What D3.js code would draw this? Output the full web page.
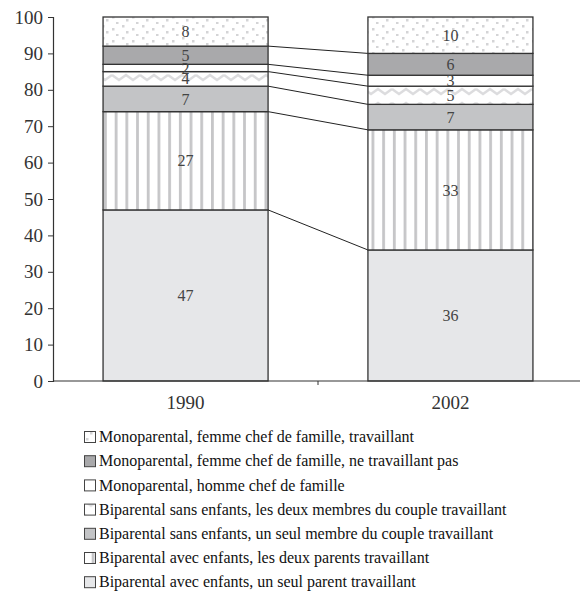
<!DOCTYPE html>
<html>
<head>
<meta charset="utf-8">
<script src="https://cdn.jsdelivr.net/npm/d3@7"></script>
<style>
  body { margin: 0; background: #fff; }
  svg { display: block; }
  text { font-family: "Liberation Serif", "Times New Roman", serif; }
</style>
</head>
<body>
<div id="chart"></div>
<script>
// data
var years = ['1990', '2002'];
var series = [
  'Biparental avec enfants, un seul parent travaillant',
  'Biparental avec enfants, les deux parents travaillant',
  'Biparental sans enfants, un seul membre du couple travaillant',
  'Biparental sans enfants, les deux membres du couple travaillant',
  'Monoparental, homme chef de famille',
  'Monoparental, femme chef de famille, ne travaillant pas',
  'Monoparental, femme chef de famille, travaillant'
];
var values1990 = [47, 27, 7, 4, 2, 5, 8];
var values2002 = [36, 33, 7, 5, 3, 6, 10];
var yTicks = [0, 10, 20, 30, 40, 50, 60, 70, 80, 90, 100];

var width = 580, height = 614;
var fills = ['#e6e7e9', 'url(#stripes)', '#c3c4c6', 'url(#zigzag)', '#ffffff', '#a9a9ab', 'url(#dots)'];

var svg = d3.select('#chart').append('svg')
    .attr('width', width)
    .attr('height', height);

var defs = svg.append('defs');
// vertical stripes
var pStripe = defs.append('pattern').attr('id', 'stripes')
    .attr('patternUnits', 'userSpaceOnUse').attr('width', 10.7).attr('height', 10).attr('x', 104);
pStripe.append('rect').attr('width', 10.7).attr('height', 10).attr('fill', '#fff');
pStripe.append('rect').attr('x', 0).attr('width', 2.8).attr('height', 10).attr('fill', '#c6c6c8');
// dots
var pDots = defs.append('pattern').attr('id', 'dots')
    .attr('patternUnits', 'userSpaceOnUse').attr('width', 20).attr('height', 12);
pDots.append('rect').attr('width', 20).attr('height', 12).attr('fill', '#fff');
[[2, 1], [12, 4], [6, 7], [16, 10]].forEach(function(p) {
  pDots.append('rect').attr('x', p[0]).attr('y', p[1]).attr('width', 2.5).attr('height', 2.5).attr('fill', '#d4d4d6');
});
// zigzag
var pZig = defs.append('pattern').attr('id', 'zigzag')
    .attr('patternUnits', 'userSpaceOnUse').attr('width', 28).attr('height', 14).attr('y', 2);
pZig.append('rect').attr('width', 28).attr('height', 14).attr('fill', '#fff');
pZig.append('path').attr('d', 'M0,3 L7,8 L14,3 L21,8 L28,3').attr('fill', 'none')
    .attr('stroke', '#dcdcde').attr('stroke-width', 2.5);

var x = d3.scaleBand().domain(years).range([53, 583]).paddingInner(0.377).paddingOuter(0.189);
var y = d3.scaleLinear().domain([0, 100]).range([381, 17]);

var data = [values1990, values2002].map(function(vals, i) {
  var acc = 0;
  return vals.map(function(v, k) {
    var d = {year: years[i], k: k, v: v, y0: acc, y1: acc + v};
    acc += v;
    return d;
  });
});

// connecting lines between stacked boundaries
var links = d3.range(series.length - 1).map(function(k) {
  return {a: data[0][k].y1, b: data[1][k].y1};
});
svg.append('g').selectAll('line').data(links).join('line')
    .attr('x1', x('1990') + x.bandwidth())
    .attr('x2', x('2002'))
    .attr('y1', d => y(d.a))
    .attr('y2', d => y(d.b))
    .attr('stroke', '#222')
    .attr('stroke-width', 1);

// bars
var bars = svg.append('g');
data.forEach(function(col) {
  bars.selectAll(null).data(col).join('rect')
      .attr('x', d => x(d.year))
      .attr('width', x.bandwidth())
      .attr('y', d => y(d.y1))
      .attr('height', d => y(d.y0) - y(d.y1))
      .attr('fill', d => fills[d.k])
      .attr('stroke', '#333')
      .attr('stroke-width', 1.3);
  bars.selectAll(null).data(col).join('text')
      .attr('x', d => x(d.year) + x.bandwidth() / 2)
      .attr('y', d => y((d.y0 + d.y1) / 2))
      .attr('dy', '0.35em')
      .attr('text-anchor', 'middle')
      .attr('font-size', 16)
      .attr('fill', '#444')
      .text(d => d.v);
});

// y axis
var yAxis = svg.append('g')
    .attr('transform', 'translate(53,0)')
    .call(d3.axisLeft(y).tickValues(yTicks).tickSize(5).tickPadding(5));
yAxis.attr('font-family', null);
yAxis.select('.domain').attr('stroke', '#333').attr('stroke-width', 1.2);
yAxis.selectAll('.tick line').attr('stroke', '#333');
yAxis.selectAll('.tick text')
    .attr('font-size', 19).attr('fill', '#333');

// x axis
svg.append('line').attr('x1', 53).attr('x2', 580).attr('y1', y(0)).attr('y2', y(0))
    .attr('stroke', '#333').attr('stroke-width', 1.2);
svg.append('line').attr('x1', x('2002') - x.step() * x.paddingInner() / 2)
    .attr('x2', x('2002') - x.step() * x.paddingInner() / 2)
    .attr('y1', y(0)).attr('y2', y(0) + 4).attr('stroke', '#333');
svg.append('g').selectAll('text').data(years).join('text')
    .attr('x', d => x(d) + x.bandwidth() / 2)
    .attr('y', y(0) + 28)
    .attr('text-anchor', 'middle')
    .attr('font-size', 19)
    .attr('fill', '#333')
    .text(d => d);

// legend (top to bottom = top of stack first)
var legendOrder = d3.range(series.length).reverse();
var legend = svg.append('g').selectAll('g').data(legendOrder).join('g')
    .attr('transform', (d, i) => 'translate(84,' + (437 + i * 24.2) + ')');
legend.append('rect')
    .attr('x', 0.5).attr('y', -5.5).attr('width', 11).attr('height', 11)
    .attr('fill', d => fills[d])
    .attr('stroke', '#444').attr('stroke-width', 1);
legend.append('text')
    .attr('x', 15).attr('dy', '0.33em')
    .attr('font-size', 16)
    .attr('fill', '#111')
    .text(d => series[d]);
</script>
</body>
</html>
